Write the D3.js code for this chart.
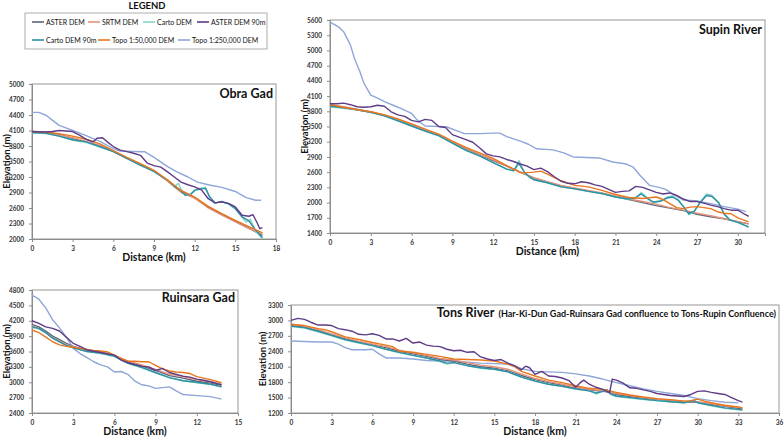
<!DOCTYPE html>
<html><head><meta charset="utf-8">
<script src="https://cdn.jsdelivr.net/npm/d3@7"></script>
<style>body{margin:0;background:#fff} svg{display:block} text{font-family:Lato,'Open Sans',sans-serif}</style>
</head><body><svg id="c" width="784" height="439"></svg>
<script>
// ---------- series ----------
const seriesNames = ["ASTER DEM","SRTM DEM","Carto DEM","ASTER DEM 90m","Carto DEM 90m","Topo 1:50,000 DEM","Topo 1:250,000 DEM"];
const seriesColors = ["#5b6479","#e3937a","#7fd6c8","#5e3c88","#2f8ea3","#e8761e","#8ea6d8"];
const drawOrder = [6,0,1,2,4,5,3];

// ---------- Obra Gad ----------
const obraXTicks = [0,3,6,9,12,15,18];
const obraYTicks = [2000,2300,2600,2900,3200,3500,3800,4100,4400,4700,5000];
const obraAster = [[0,4070],[1,4060],[2,4020],[3,3950],[4,3880],[5,3800],[6,3700],[7,3570],[8,3440],[9,3310],[10,3130],[11,2930],[12,2800],[13,2620],[14,2480],[15,2340],[16,2210],[17,2070]];
const obraSrtm = [[0,4060],[1,4050],[2,4010],[3,3960],[4,3890],[5,3810],[6,3690],[7,3560],[8,3440],[9,3320],[10,3120],[11,2900],[12,2790],[13,2600],[14,2460],[15,2330],[16,2200],[17,2090]];
const obraCarto = [[0,4050],[1,4040],[2,3990],[3,3910],[4,3870],[5,3780],[6,3690],[7,3560],[8,3420],[9,3310],[10,3140],[10.5,3010],[10.8,3080],[11,2960],[11.3,2840],[11.7,2870],[12,2950],[12.5,2990],[12.8,3000],[13.1,2800],[13.5,2690],[14,2730],[14.5,2680],[15,2580],[15.5,2420],[15.8,2330],[16.1,2380],[16.5,2150],[17,2010]];
const obraAster90 = [[0,4080],[1,4070],[1.5,4080],[2,4100],[2.5,4090],[3,4080],[3.5,4010],[4,3930],[4.5,3880],[4.8,3950],[5.2,3960],[5.6,3870],[6,3790],[6.5,3720],[7,3690],[7.5,3660],[8,3620],[8.5,3470],[9,3420],[9.5,3390],[10,3300],[10.5,3200],[11,3100],[11.5,3050],[12,3010],[12.5,2950],[13,2780],[13.5,2700],[14,2720],[14.5,2690],[15,2620],[15.5,2460],[16,2440],[16.3,2470],[16.6,2320],[16.8,2200],[17,2220]];
const obraCarto90 = [[0,4060],[1,4050],[2,3990],[3,3920],[4,3880],[5,3790],[6,3690],[7,3560],[8,3430],[9,3310],[10,3140],[10.5,3020],[11,2930],[11.3,2850],[11.7,2860],[12,2940],[12.5,2970],[12.8,2980],[13.1,2820],[13.5,2700],[14,2720],[14.5,2680],[15,2590],[15.5,2430],[16,2350],[16.5,2170],[17,2030]];
const obraTopo50 = [[0,4080],[1,4070],[2,4040],[3,3990],[4,3930],[5,3840],[6,3710],[7,3580],[8,3460],[9,3330],[10,3140],[11,2940],[12,2810],[13,2630],[14,2490],[15,2360],[16,2240],[17,2120]];
const obraTopo250 = [[0,4450],[0.5,4450],[1,4400],[1.5,4300],[2,4200],[2.5,4150],[3,4100],[4,4000],[5,3890],[6,3750],[6.5,3700],[7,3700],[8,3690],[8.3,3690],[9,3580],[10,3400],[10.7,3300],[11.5,3200],[12.2,3100],[13,3050],[14,3000],[15,2920],[15.8,2800],[16.5,2750],[16.9,2750]];

// ---------- Supin River ----------
const supinXTicks = [0,3,6,9,12,15,18,21,24,27,30];
const supinYTicks = [1400,1700,2000,2300,2600,2900,3200,3500,3800,4100,4400,4700,5000,5300,5600];
const supinAster = [[0,3920],[1,3880],[2,3830],[3,3780],[4,3720],[5,3630],[6,3530],[7,3420],[8,3320],[9,3190],[10,3060],[11,2940],[12,2830],[13,2720],[14,2600],[15,2480],[16,2400],[17,2330],[18,2280],[19,2230],[20,2180],[21,2120],[22,2060],[23,2000],[24,1940],[25,1890],[26,1840],[27,1770],[28,1720],[29,1680],[30,1620],[30.8,1580]];
const supinSrtm = [[0,3930],[1,3890],[2,3840],[3,3790],[4,3730],[5,3640],[6,3540],[7,3440],[8,3340],[9,3200],[10,3070],[11,2950],[12,2840],[13,2720],[14,2600],[15,2490],[16,2410],[17,2340],[18,2290],[19,2240],[20,2190],[21,2130],[22,2070],[23,2020],[24,1970],[25,1900],[26,1850],[27,1790],[28,1740],[29,1680],[30,1630],[30.8,1580]];
const supinCarto = [[0,3890],[1,3860],[2,3830],[3,3780],[4,3710],[5,3610],[6,3510],[7,3410],[8,3320],[9,3170],[10,3030],[11,2920],[12,2790],[13,2660],[13.5,2620],[13.9,2830],[14.3,2600],[14.7,2490],[15,2450],[16,2390],[17,2310],[18,2270],[19,2220],[20,2180],[21,2110],[22,2060],[22.5,2100],[22.9,2200],[23.4,2080],[23.8,2000],[24.3,2020],[24.8,2110],[25.2,2130],[25.6,2060],[26,1920],[26.4,1760],[26.8,1820],[27.2,2000],[27.7,2170],[28.1,2140],[28.6,2000],[29,1780],[29.4,1660],[30,1610],[30.8,1510]];
const supinAster90 = [[0,3950],[0.5,3950],[1,3960],[1.5,3930],[2,3890],[2.5,3880],[3,3890],[3.5,3920],[4,3900],[4.5,3790],[5,3730],[5.5,3700],[6,3620],[6.5,3590],[7,3640],[7.5,3620],[8,3500],[8.5,3480],[9,3340],[9.5,3290],[10,3240],[10.5,3190],[11,3080],[11.5,2960],[12,2920],[12.5,2900],[13,2850],[13.5,2810],[14,2760],[14.5,2720],[15,2650],[15.5,2680],[16,2610],[16.5,2510],[17,2420],[17.5,2380],[18,2370],[18.5,2410],[19,2390],[19.5,2350],[20,2320],[20.5,2260],[21,2200],[21.5,2220],[22,2230],[22.5,2320],[23,2300],[23.5,2250],[24,2200],[24.5,2170],[25,2190],[25.5,2140],[26,2070],[26.5,2020],[27,2020],[27.5,1990],[28,1950],[28.5,1920],[29,1880],[29.5,1850],[30,1850],[30.5,1770],[30.8,1730]];
const supinCarto90 = [[0,3900],[1,3870],[2,3830],[3,3780],[4,3710],[5,3610],[6,3510],[7,3410],[8,3320],[9,3170],[10,3030],[11,2920],[12,2790],[13,2660],[13.5,2630],[13.9,2770],[14.3,2600],[14.7,2500],[15,2450],[16,2390],[17,2310],[18,2270],[19,2220],[20,2180],[21,2110],[22,2070],[22.5,2100],[22.9,2170],[23.4,2070],[23.8,2010],[24.3,2030],[24.8,2090],[25.2,2110],[25.6,2050],[26,1920],[26.4,1780],[26.8,1830],[27.2,1990],[27.7,2140],[28.1,2120],[28.6,1990],[29,1770],[29.4,1660],[30,1610],[30.8,1520]];
const supinTopo50 = [[0,3930],[1,3880],[2,3830],[3,3790],[4,3730],[5,3650],[6,3550],[7,3450],[8,3350],[9,3210],[10,3090],[11,2980],[12,2870],[13,2730],[14,2590],[14.5,2590],[15,2600],[15.5,2620],[16,2560],[17,2430],[18,2340],[19,2310],[20,2240],[21,2160],[22,2100],[23,2080],[24,2110],[24.5,2060],[25,1980],[25.5,1900],[26,1880],[26.5,1910],[27,1920],[28,1880],[28.5,1820],[29,1790],[29.5,1780],[30,1700],[30.8,1620]];
const supinTopo250 = [[0,5560],[0.6,5470],[1,5370],[1.5,5110],[1.8,4840],[2.2,4580],[2.5,4350],[3,4120],[3.5,4060],[4,3990],[5,3880],[6,3760],[6.4,3630],[7,3510],[8,3500],[8.6,3490],[9.3,3420],[9.9,3360],[11,3360],[12,3370],[12.5,3370],[13,3300],[14,3210],[14.6,3150],[15.2,3060],[16.4,3040],[17.2,2980],[17.9,2900],[19.8,2880],[20.8,2800],[21.8,2760],[22.3,2700],[22.8,2540],[23.5,2340],[24.2,2300],[24.7,2260],[25.2,2170],[26,2050],[27,2030],[28,1980],[29,1920],[30,1870],[30.6,1820]];

// ---------- Ruinsara Gad ----------
const ruinXTicks = [0,3,6,9,12,15];
const ruinYTicks = [2400,2700,3000,3300,3600,3900,4200,4500,4800];
const ruinAster = [[0,4130],[0.5,4080],[1,4000],[1.5,3900],[2,3830],[2.5,3760],[3,3700],[4,3630],[5,3590],[6,3520],[7,3400],[8,3320],[9,3230],[10,3130],[11,3080],[12,3020],[13,2980],[13.8,2940]];
const ruinSrtm = [[0,4100],[0.5,4050],[1,3970],[1.5,3870],[2,3800],[2.5,3740],[3,3690],[4,3620],[5,3590],[6,3520],[7,3410],[8,3340],[9,3250],[10,3160],[11,3110],[12,3050],[13,3010],[13.8,2960]];
const ruinCarto = [[0,4070],[0.5,4040],[1,3960],[1.5,3860],[2,3790],[2.5,3720],[3,3670],[4,3600],[5,3560],[6,3500],[7,3370],[8,3280],[9,3180],[10,3090],[11,3030],[12,2990],[13,2960],[13.8,2910]];
const ruinAster90 = [[0,4200],[0.5,4150],[1,4080],[1.5,4050],[2,4000],[2.5,3880],[3,3760],[3.5,3700],[4,3630],[5,3580],[6,3530],[6.5,3430],[7,3380],[8,3310],[8.5,3300],[9,3230],[9.5,3270],[10,3190],[11,3120],[11.5,3100],[12,3060],[12.5,3040],[13,3010],[13.8,2950]];
const ruinCarto90 = [[0,4080],[0.5,4050],[1,3970],[1.5,3860],[2,3790],[2.5,3720],[3,3670],[4,3600],[5,3570],[6,3510],[7,3370],[8,3290],[9,3190],[10,3090],[11,3030],[12,3000],[13,2960],[13.8,2910]];
const ruinTopo50 = [[0,4020],[0.5,3970],[1,3880],[1.5,3790],[2,3730],[2.5,3700],[3,3680],[4,3640],[4.5,3620],[5,3610],[5.5,3590],[6,3530],[6.5,3460],[7,3410],[7.5,3410],[8,3400],[8.5,3400],[9,3330],[9.5,3260],[10,3220],[10.5,3200],[11,3190],[11.5,3170],[12,3110],[12.5,3080],[13,3050],[13.8,2990]];
const ruinTopo250 = [[0,4700],[0.5,4620],[1,4450],[1.5,4220],[2,4060],[2.5,3880],[3,3660],[3.5,3560],[4,3480],[4.5,3400],[5,3340],[5.5,3300],[6,3200],[6.5,3210],[7,3150],[7.5,3020],[8,2950],[8.5,2930],[9,2880],[10,2910],[10.5,2830],[11,2760],[12,2740],[13,2720],[13.8,2670]];

// ---------- Tons River ----------
const tonsXTicks = [0,3,6,9,12,15,18,21,24,27,30,33,36];
const tonsYTicks = [1200,1500,1800,2100,2400,2700,3000,3300];
const tonsAster = [[0,2900],[1,2870],[2,2800],[3,2720],[4,2640],[5,2580],[6,2530],[7,2470],[8,2400],[9,2350],[10,2300],[11,2240],[12,2210],[13,2150],[14,2100],[15,2070],[16,2020],[17,1930],[18,1850],[19,1790],[20,1740],[21,1690],[22,1650],[23,1620],[23.6,1600],[24,1560],[25,1520],[26,1490],[27,1460],[28,1440],[29,1420],[30,1410],[31,1370],[32,1330],[33,1290],[33.3,1280]];
const tonsSrtm = [[0,2930],[1,2890],[2,2820],[3,2740],[4,2660],[5,2590],[6,2540],[7,2490],[8,2420],[9,2370],[10,2320],[11,2260],[12,2230],[13,2180],[14,2130],[15,2100],[16,2050],[17,1960],[18,1870],[19,1810],[20,1760],[21,1700],[22,1660],[23,1630],[24,1580],[25,1540],[26,1500],[27,1470],[28,1450],[29,1430],[30,1420],[31,1380],[32,1340],[33,1310],[33.3,1300]];
const tonsCarto = [[0,2880],[1,2850],[2,2780],[3,2700],[4,2620],[5,2560],[6,2510],[7,2440],[8,2370],[9,2320],[10,2270],[11,2200],[11.5,2150],[12,2180],[13,2120],[14,2070],[15,2050],[16,2000],[17,1900],[18,1820],[19,1760],[20,1720],[21,1660],[22,1630],[22.5,1570],[23,1620],[23.3,1660],[23.6,1560],[24,1520],[25,1490],[26,1460],[27,1440],[28,1420],[29,1400],[29.7,1450],[30,1400],[31,1340],[32,1290],[33,1260],[33.3,1250]];
const tonsAster90 = [[0,3000],[0.5,3040],[1,3020],[1.5,2960],[2,2910],[2.5,2910],[3,2900],[3.5,2840],[4,2820],[4.5,2790],[5,2730],[5.5,2720],[6,2740],[6.5,2710],[7,2640],[7.5,2640],[8,2600],[8.5,2650],[9,2560],[9.5,2580],[10,2520],[10.5,2500],[11,2490],[11.5,2440],[12,2410],[12.5,2420],[13,2380],[13.5,2390],[14,2290],[14.5,2250],[15,2220],[15.5,2240],[16,2170],[16.5,2120],[17,2040],[17.3,2110],[17.6,2080],[18,1950],[18.5,2010],[19,1920],[19.5,1910],[20,1880],[20.5,1830],[21,1700],[21.3,1780],[21.6,1840],[22,1760],[22.5,1700],[23,1660],[23.5,1590],[23.7,1860],[24,1840],[24.5,1780],[25,1690],[25.5,1680],[26,1650],[26.5,1620],[27,1580],[27.5,1560],[28,1540],[28.5,1530],[29,1520],[29.5,1560],[30,1620],[30.5,1630],[31,1600],[31.5,1580],[32,1560],[32.5,1500],[33,1440],[33.3,1410]];
const tonsCarto90 = [[0,2890],[1,2860],[2,2790],[3,2710],[4,2630],[5,2570],[6,2510],[7,2440],[8,2380],[9,2320],[10,2270],[11,2210],[11.5,2170],[12,2180],[13,2120],[14,2080],[15,2050],[16,2000],[17,1900],[18,1820],[19,1760],[20,1720],[21,1670],[22,1630],[22.5,1590],[23,1620],[23.3,1650],[23.6,1570],[24,1530],[25,1500],[26,1470],[27,1440],[28,1420],[29,1400],[29.7,1440],[30,1400],[31,1350],[32,1300],[33,1270],[33.3,1260]];
const tonsTopo50 = [[0,2920],[1,2900],[1.5,2870],[2,2840],[2.5,2820],[3,2780],[4,2680],[5,2630],[6,2570],[7,2520],[7.5,2490],[8,2400],[9,2380],[10,2340],[11,2300],[12,2250],[13,2240],[14,2230],[15,2210],[16,2150],[16.5,2100],[17,2010],[18,1920],[19,1840],[20,1790],[21,1730],[22,1680],[23,1660],[24,1600],[25,1550],[26,1510],[27,1480],[28,1460],[29,1430],[29.5,1440],[30,1470],[30.5,1430],[31,1400],[32,1350],[33,1320],[33.3,1300]];
const tonsTopo250 = [[0,2600],[1,2590],[2,2580],[3,2580],[3.5,2540],[4,2470],[4.5,2430],[5.5,2430],[6,2440],[6.5,2350],[7,2270],[8,2270],[9,2250],[10,2220],[11,2210],[12,2210],[13,2190],[14,2170],[15,2160],[16,2150],[17,2060],[18,2010],[19,2000],[20,1990],[21,1960],[22,1920],[23,1860],[24,1790],[25,1730],[26,1670],[27,1620],[28,1580],[29,1540],[30,1480],[31,1440],[32,1410],[33,1400]];

// ---------- drawing ----------
const svg = d3.select('#c');
const AX = '#8c8c8c';

function drawPanel(p, series, xTicks, yTicks) {
  const x = d3.scaleLinear().domain([xTicks[0], p.xMax ?? xTicks[xTicks.length-1]]).range([p.left, p.right]);
  const y = d3.scaleLinear().domain([yTicks[0], yTicks[yTicks.length-1]]).range([p.bottom, p.top]);
  const g = svg.append('g');
  g.append('rect').attr('x', p.left).attr('y', p.top).attr('width', p.right - p.left).attr('height', p.bottom - p.top)
    .attr('fill', '#fff').attr('stroke', AX).attr('stroke-width', 0.9);
  const ax = g.append('g').attr('transform', `translate(0,${p.bottom})`)
    .call(d3.axisBottom(x).tickValues(xTicks).tickSize(3).tickPadding(4).tickFormat(d3.format('d')));
  const ay = g.append('g').attr('transform', `translate(${p.left},0)`)
    .call(d3.axisLeft(y).tickValues(yTicks).tickSize(3).tickPadding(5).tickFormat(d3.format('d')));
  [ax, ay].forEach(a => {
    a.select('.domain').attr('stroke', AX);
    a.selectAll('.tick line').attr('stroke', AX);
    a.selectAll('.tick text').attr('fill', '#333').attr('font-size', 6.5).attr('font-weight', 'bold')
      .attr('font-family', "'Open Sans',sans-serif");
  });
  const line = d3.line().x(d => x(d[0])).y(d => y(d[1])).curve(d3.curveLinear);
  drawOrder.forEach(i => {
    g.append('path').datum(series[i]).attr('d', line).attr('fill', 'none')
      .attr('stroke', seriesColors[i]).attr('stroke-width', 1.4).attr('stroke-linejoin', 'round');
  });
  g.append('text').attr('x', (p.left + p.right) / 2 + (p.xlabDx || 0)).attr('y', p.bottom + 22)
    .attr('text-anchor', 'middle').attr('font-size', 10.5).attr('font-weight', 'bold').attr('fill', '#111').text('Distance (km)');
  g.append('text').attr('transform', `translate(${p.ylabX},${(p.top + p.bottom) / 2}) rotate(-90)`)
    .attr('text-anchor', 'middle').attr('font-size', 9.5).attr('font-weight', 'bold').attr('fill', '#111').text('Elevation (m)');
  const t = g.append('text').attr('x', p.right - 3).attr('y', p.titleY).attr('text-anchor', 'end')
    .attr('font-weight', 'bold').attr('fill', '#111');
  t.append('tspan').attr('font-size', 12.5).text(p.title);
  if (p.sub) t.append('tspan').attr('font-size', 9).attr('dx', 4).text(p.sub);
}

drawPanel({left:32,right:276,top:84,bottom:239,ylabX:10,titleY:98,title:'Obra Gad'},
  [obraAster,obraSrtm,obraCarto,obraAster90,obraCarto90,obraTopo50,obraTopo250], obraXTicks, obraYTicks);
drawPanel({left:330,right:765,top:20,bottom:233,xMax:32,ylabX:308,titleY:34,title:'Supin River'},
  [supinAster,supinSrtm,supinCarto,supinAster90,supinCarto90,supinTopo50,supinTopo250], supinXTicks, supinYTicks);
drawPanel({left:32,right:238,top:290,bottom:413,ylabX:10,titleY:302,title:'Ruinsara Gad'},
  [ruinAster,ruinSrtm,ruinCarto,ruinAster90,ruinCarto90,ruinTopo50,ruinTopo250], ruinXTicks, ruinYTicks);
drawPanel({left:291,right:779,top:305,bottom:413,ylabX:266,titleY:317,title:'Tons River',
  sub:'(Har-Ki-Dun Gad-Ruinsara Gad confluence to Tons-Rupin Confluence)'},
  [tonsAster,tonsSrtm,tonsCarto,tonsAster90,tonsCarto90,tonsTopo50,tonsTopo250], tonsXTicks, tonsYTicks);

// ---------- legend ----------
const lg = svg.append('g');
lg.append('text').attr('x', 147).attr('y', 9).attr('text-anchor', 'middle').attr('font-size', 9.5)
  .attr('font-weight', 'bold').attr('font-family', "'Liberation Sans',Arial,sans-serif").attr('fill', '#111').text('LEGEND');
lg.append('rect').attr('x', 25).attr('y', 13).attr('width', 242).attr('height', 36).attr('fill', '#fff').attr('stroke', '#9a9a9a').attr('stroke-width', 0.8);
const legendPos = [[32,22],[88,22],[143,22],[197,22],[32,40],[98,40],[178,40]];
seriesNames.forEach((n, i) => {
  const [lx, ly] = legendPos[i];
  lg.append('line').attr('x1', lx).attr('x2', lx + 12).attr('y1', ly).attr('y2', ly).attr('stroke', seriesColors[i]).attr('stroke-width', 1.6);
  lg.append('text').attr('x', lx + 14).attr('y', ly + 2.5).attr('font-size', 7).attr('fill', '#111').text(n);
});
</script></body></html>
